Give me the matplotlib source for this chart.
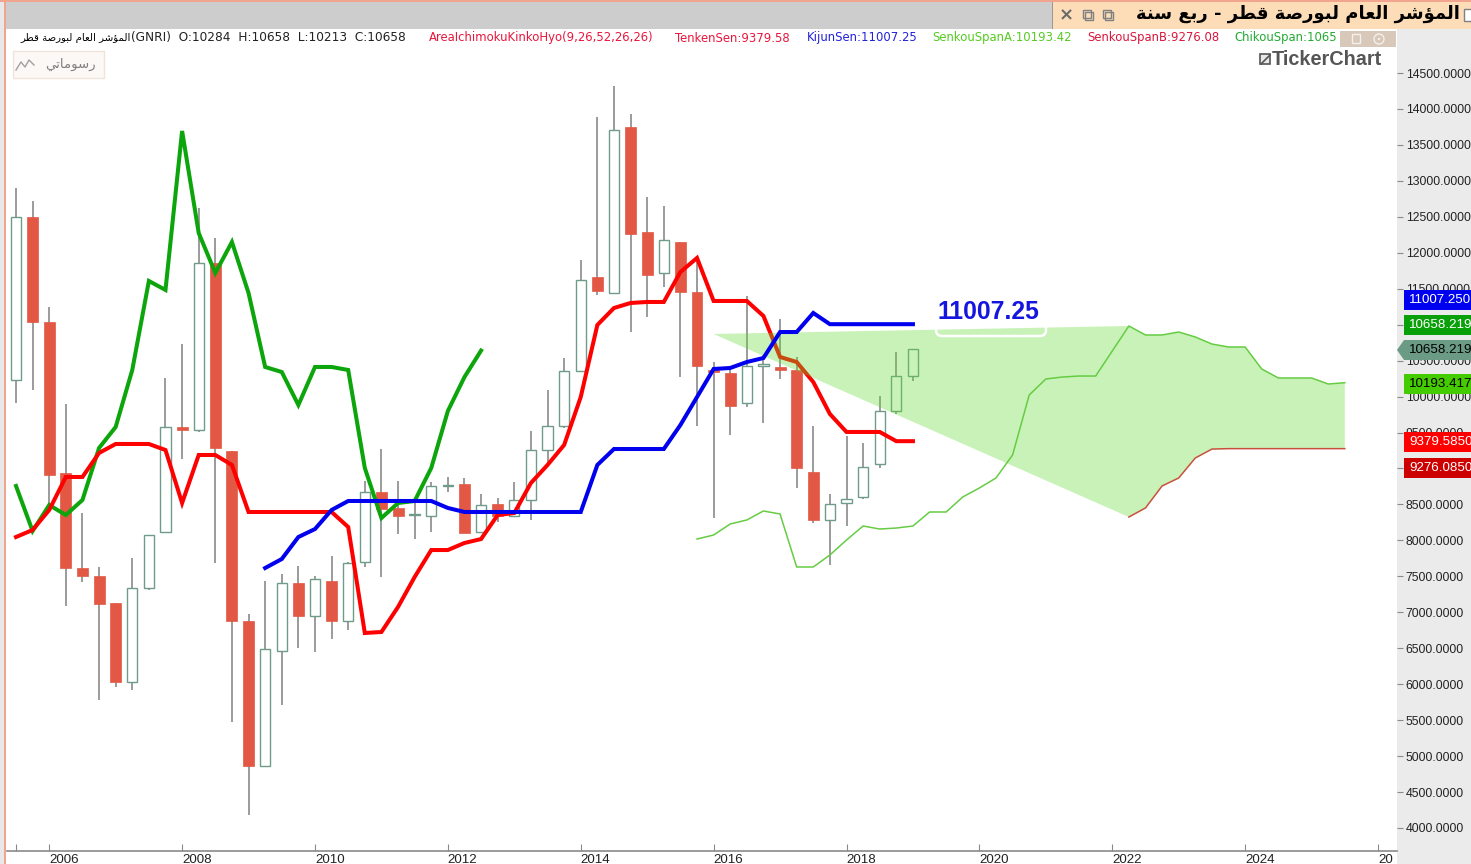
import matplotlib
matplotlib.use('Agg')
import matplotlib.pyplot as plt
import matplotlib.transforms as mtrans
from matplotlib.patches import Rectangle, Polygon, Circle, FancyBboxPatch

# OHLC trimestral
opens = [10231, 12498, 11037, 8937, 7616, 7505, 7129, 6031, 7338, 8117, 9577, 9535, 11858, 9243,
         6879, 4862, 6462, 7407, 6948, 7435, 6879, 7700, 8673, 8451, 8360, 8339, 8750, 8784,
         8117, 8506, 8339, 8562, 9257, 9591, 10356, 11663, 11441, 13749, 12289, 11719, 12150,
         11455, 10370, 10328, 9911, 10425, 10412, 10370, 8951, 8284, 8520, 8604, 9062, 9800, 10284]
closes = [12498, 11037, 8910, 7616, 7505, 7115, 6031, 7338, 8075, 9577, 9535, 11858, 9285, 6879,
          4862, 6490, 7407, 6948, 7463, 6879, 7686, 8673, 8437, 8339, 8374, 8757, 8770, 8103,
          8492, 8339, 8562, 9257, 9591, 10356, 11622, 11469, 13708, 12261, 11691, 12178, 11455,
          10425, 10342, 9869, 10425, 10453, 10370, 9007, 8284, 8506, 8576, 9021, 9800, 10286, 10658]
highs = [12901, 12720, 11246, 9897, 8381, 7630, 7129, 7755, 8075, 10259, 10731, 12623, 12206, 9243,
         6976, 7435, 7533, 7644, 7505, 7783, 7700, 8826, 9271, 8826, 8562, 8812, 8882, 8868,
         8645, 8590, 8812, 9521, 10092, 10537, 11900, 13889, 14320, 13930, 12776, 12651, 12150,
         11928, 10481, 10370, 11399, 10578, 11079, 10551, 9591, 8645, 9452, 9355, 10008, 10620, 10658]
lows = [9911, 10092, 8492, 7088, 7421, 5780, 5961, 5919, 7310, 8117, 9132, 9508, 7686, 5474,
        4181, 4862, 5711, 6503, 6448, 6629, 6754, 7630, 7491, 8089, 8019, 8117, 8673, 8103,
        8117, 8256, 8339, 8284, 9076, 9563, 10356, 11413, 11441, 10898, 11107, 11524, 10272,
        9591, 8311, 9466, 9855, 9633, 10245, 8729, 8242, 7658, 8200, 8576, 9007, 9758, 10213]

# Linhas do Ichimoku
chikou = [8757, 8131, 8492, 8353, 8562, 9285, 9577, 10370, 11608, 11483, 13694, 12275, 11719, 12150,
          11441, 10412, 10342, 9883, 10412, 10412, 10370, 9007, 8311, 8520, 8548, 9007, 9800, 10272, 10640]
tenkan = [8047, 8145, 8423, 8882, 8882, 9216, 9341, 9341, 9341, 9257, 8520, 9188, 9188, 9049,
          8395, 8395, 8395, 8395, 8395, 8395, 8186, 6712, 6726, 7074, 7491, 7866, 7866, 7964,
          8019, 8353, 8381, 8798, 9049, 9327, 9994, 10996, 11232, 11302, 11316, 11316, 11733,
          11928, 11330, 11330, 11330, 11121, 10551, 10481, 10203, 9758, 9508, 9508, 9508, 9380, 9380]
kijun_start = 15
kijun = [7616, 7741, 8047, 8158, 8423, 8548, 8548, 8548, 8548, 8548, 8548, 8451, 8395, 8395,
         8395, 8395, 8395, 8395, 8395, 8395, 9049, 9271, 9271, 9271, 9271, 9605, 9994, 10384,
         10398, 10481, 10537, 10898, 10898, 11163, 11007, 11007, 11007, 11007, 11007, 11007]
span_a_start = 41
span_a = [8019, 8075, 8228, 8284, 8409, 8367, 7630, 7630, 7797, 8005, 8200, 8158, 8172, 8200,
          8395, 8395, 8604, 8729, 8868, 9188, 10022, 10245, 10272, 10286, 10286, 10634, 10982,
          10857, 10857, 10898, 10829, 10731, 10690, 10690, 10384, 10259, 10259, 10259, 10175, 10193]
span_b_start = 67
span_b = [8325, 8451, 8757, 8868, 9146, 9270, 9276, 9276, 9276, 9276, 9276, 9276, 9276, 9276]
cloud_start = 42
cloud_start_value = 10871

year_ticks = [0, 2, 10, 18, 26, 34, 42, 50, 58, 66, 74, 82]
year_labels = ['', '2006', '2008', '2010', '2012', '2014', '2016', '2018', '2020', '2022', '2024', '20']
price_ticks = list(range(4000, 15000, 500))

title_ar = 'المؤشر العام لبورصة قطر - ربع سنة'
symbol_ar = 'المؤشر العام لبورصة قطر'
button_ar = 'رسوماتي'

# Formas de apresentação, o matplotlib não junta letras árabes sozinho
# letra: (isolada, final, inicial, medial)
AR_FORMS = {'ا': (0xFE8D, 0xFE8E), 'ل': (0xFEDD, 0xFEDE, 0xFEDF, 0xFEE0), 'م': (0xFEE1, 0xFEE2, 0xFEE3, 0xFEE4),
            'ؤ': (0xFE85, 0xFE86), 'ش': (0xFEB5, 0xFEB6, 0xFEB7, 0xFEB8), 'ر': (0xFEAD, 0xFEAE),
            'ع': (0xFEC9, 0xFECA, 0xFECB, 0xFECC), 'ب': (0xFE8F, 0xFE90, 0xFE91, 0xFE92), 'و': (0xFEED, 0xFEEE),
            'ص': (0xFEB9, 0xFEBA, 0xFEBB, 0xFEBC), 'ة': (0xFE93, 0xFE94), 'ق': (0xFED5, 0xFED6, 0xFED7, 0xFED8),
            'ط': (0xFEC1, 0xFEC2, 0xFEC3, 0xFEC4), 'س': (0xFEB1, 0xFEB2, 0xFEB3, 0xFEB4),
            'ن': (0xFEE5, 0xFEE6, 0xFEE7, 0xFEE8), 'ت': (0xFE95, 0xFE96, 0xFE97, 0xFE98),
            'ي': (0xFEF1, 0xFEF2, 0xFEF3, 0xFEF4)}


def shape_ar(text):
    out = []
    for i, ch in enumerate(text):
        forms = AR_FORMS.get(ch)
        if forms is None:
            out.append(ch)
            continue
        prev = text[i - 1] if i > 0 else ' '
        nxt = text[i + 1] if i + 1 < len(text) else ' '
        joins_prev = prev in AR_FORMS and len(AR_FORMS[prev]) == 4
        joins_next = nxt in AR_FORMS and len(forms) == 4
        if joins_prev and joins_next:
            out.append(chr(forms[3]))
        elif joins_next:
            out.append(chr(forms[2]))
        elif joins_prev:
            out.append(chr(forms[1]))
        else:
            out.append(chr(forms[0]))
    return ''.join(out)[::-1]


W, H = 1471, 864
fig = plt.figure(figsize=(W / 100, H / 100), dpi=100, facecolor='white')
arial = 'Liberation Sans'

# Fundo da janela, em pixels
bg = fig.add_axes([0, 0, 1, 1], zorder=-1)
bg.set_xlim(0, W)
bg.set_ylim(H, 0)
bg.axis('off')
bg.add_patch(Rectangle((0, 0), 4, H, color='#E8E8E8', lw=0))
bg.add_patch(Rectangle((4, 0), 2.5, H, color='#F2A58E', lw=0))
bg.add_patch(Rectangle((0, 0), W, 2, color='#F2A58E', lw=0))
bg.add_patch(Rectangle((6.5, 2), 1046, 26.5, color='#CDCDCD', lw=0))
bg.add_patch(Rectangle((1052, 2), W - 1052, 26.5, color='#FDDDB8', lw=0))
bg.add_patch(Rectangle((1052, 2), 1, 26.5, color='#999999', lw=0))
bg.add_patch(Rectangle((1397, 29), W - 1397, H - 29, color='#EBEBEB', lw=0))

# Gráfico principal
ax = fig.add_axes([7 / W, (H - 851) / H, (1397 - 7) / W, (851 - 29) / H], zorder=1)
ax.set_xlim((7 - 16) / 16.61, (1397 - 16) / 16.61)
ax.set_ylim(4000 - 23 * 13.908, 4000 + 799 * 13.908)
for s in ['top', 'left', 'right']:
    ax.spines[s].set_visible(False)
ax.spines['bottom'].set_color('#8A8A8A')
ax.spines['bottom'].set_linewidth(1.2)

idx = list(range(len(opens)))
ax.vlines(idx, lows, highs, color='#808080', lw=1.1, zorder=1)
for i in idx:
    lo, hi = min(opens[i], closes[i]), max(opens[i], closes[i])
    if closes[i] >= opens[i]:
        ax.bar(i, hi - lo, bottom=lo, width=0.62, facecolor='white', edgecolor='#6E9C88', lw=1.0, zorder=2)
    else:
        ax.bar(i, hi - lo, bottom=lo, width=0.66, facecolor='#E25845', edgecolor='#E25845', lw=0.5, zorder=2)

ax.plot(range(len(chikou)), chikou, color='#0CA50C', lw=2.9, zorder=3, solid_joinstyle='miter')
ax.plot(idx, tenkan, color='#FF0000', lw=2.9, zorder=3, solid_joinstyle='miter')

# Nuvem por cima das velas e da Tenkan
a_x = [span_a_start + i for i in range(len(span_a))]
b_x = [span_b_start + i for i in range(len(span_b))]
a_top = a_x[span_b_start - span_a_start:]
a_top_v = span_a[span_b_start - span_a_start:]
cloud_x = [cloud_start] + a_top + b_x[::-1]
cloud_y = [cloud_start_value] + a_top_v + span_b[::-1]
ax.fill(cloud_x, cloud_y, facecolor='#64DC32', alpha=0.35, lw=0, zorder=4)
ax.plot(a_x, span_a, color='#66CC44', lw=1.1, zorder=5)
ax.plot(b_x, span_b, color='#C8503C', lw=1.1, zorder=5)
ax.plot(range(kijun_start, kijun_start + len(kijun)), kijun, color='#0000EE', lw=2.9, zorder=6, solid_joinstyle='miter')

ax.set_xticks(year_ticks)
ax.set_xticklabels(year_labels, fontsize=9.6, family=arial, color='#222222', ha='left')
offset = mtrans.ScaledTranslation(2 / 72, 0, fig.dpi_scale_trans)
for lab in ax.get_xticklabels():
    lab.set_transform(lab.get_transform() + offset)
ax.tick_params(axis='x', direction='in', length=5, width=0.8, color='#8A8A8A', pad=2)
ax.yaxis.tick_right()
ax.set_yticks(price_ticks)
ax.set_yticklabels(['%.4f' % p for p in price_ticks], fontsize=8.8, family=arial, color='#222222')
ax.tick_params(axis='y', direction='out', length=4.3, width=0.8, color='#8A8A8A', pad=2)

# Camada de cima: cabeçalho, etiquetas e botões
ui = fig.add_axes([0, 0, 1, 1], zorder=3)
ui.set_xlim(0, W)
ui.set_ylim(H, 0)
ui.axis('off')
ui.patch.set_alpha(0)

# Título e ícones da janela
ui.text(1460, 14, shape_ar(title_ar), ha='right', va='center', fontsize=13, fontweight='bold', color='black')
ui.text(1066, 15, '×', ha='center', va='center', fontsize=13, fontweight='bold', color='#6A6A6A')
for ix in [1083, 1103]:
    ui.add_patch(Rectangle((ix, 10), 8, 8, fill=False, ec='#808080', lw=1))
    ui.add_patch(Rectangle((ix + 2, 12), 8, 8, fill=False, ec='#808080', lw=1))
ui.add_patch(Rectangle((1464, 9), 8, 12, facecolor='white', ec='#808080', lw=1))

# Linha de informações
ui.text(20, 38, shape_ar(symbol_ar), ha='left', va='center', fontsize=7.3, color='black')
ui.text(131, 38, '(GNRI)  O:10284  H:10658  L:10213  C:10658', ha='left', va='center', fontsize=8.7, color='#222222')
header_x = [429, 675, 807, 932, 1087, 1234]
header_txt = ['AreaIchimokuKinkoHyo(9,26,52,26,26)', 'TenkenSen:9379.58', 'KijunSen:11007.25',
              'SenkouSpanA:10193.42', 'SenkouSpanB:9276.08', 'ChikouSpan:1065']
header_col = ['#E8163C', '#E8163C', '#2222DD', '#55CC22', '#D9163C', '#22AA33']
for hx, txt, col in zip(header_x, header_txt, header_col):
    ui.text(hx, 38, txt, ha='left', va='center', fontsize=8.4, color=col)

ui.add_patch(Rectangle((1340, 31), 56, 16, color='#D8C8BA', lw=0))
ui.add_patch(Rectangle((1352, 34), 8, 9, fill=False, ec='#F4F0EC', lw=1))
ui.add_patch(Circle((1379, 39), 5, fill=False, ec='#F4F0EC', lw=1))
ui.add_patch(Circle((1379, 39), 1.2, color='#F4F0EC', lw=0))

# Botão "رسوماتي"
ui.add_patch(Rectangle((13, 51), 91, 27, facecolor='#FBF8F5', ec='#F0E4DA', lw=1))
ui.text(70, 64, shape_ar(button_ar), ha='center', va='center', fontsize=9.5, color='#808080')
ui.plot([16, 21, 25, 29, 34], [70, 62, 67, 60, 65], color='#A0A0A0', lw=1)

# Logo
ui.add_patch(Rectangle((1260, 54), 10, 10, facecolor='#E8E8E8', ec='#555555', lw=1.2))
ui.plot([1261, 1270], [64, 55], color='#555555', lw=1.2)
ui.text(1272, 59.5, 'TickerChart', ha='left', va='center', fontsize=14.3, fontweight='bold', family=arial, color='#555555')

# Rótulo da Kijun
ui.add_patch(FancyBboxPatch((936, 298), 110, 38, boxstyle='round,pad=0,rounding_size=6', fill=False, ec='white', lw=1.8))
ui.text(988, 312, '11007.25', ha='center', va='center', fontsize=17.8, fontweight='bold', family=arial, color='#1515E0')

# Etiquetas de preço no eixo
tag_y = [300, 325, 350, 384, 442, 468]
tag_txt = ['11007.250', '10658.219', '10658.219', '10193.417', '9379.5850', '9276.0850']
tag_bg = ['#0000F0', '#0AA00A', '#6B9B85', '#44CC00', '#FF0000', '#CC0000']
tag_fg = ['white', 'white', 'black', 'black', 'white', 'white']
for ty, txt, c, fg in zip(tag_y, tag_txt, tag_bg, tag_fg):
    ui.add_patch(Rectangle((1404, ty - 10), W - 1404, 20, color=c, lw=0))
    if c == '#6B9B85':
        ui.add_patch(Polygon([(1397, ty), (1404, ty - 10), (1404, ty + 10)], closed=True, color=c, lw=0))
    ui.text(1409, ty, txt, ha='left', va='center', fontsize=9.6, family=arial, color=fg)

fig.savefig('out.png', dpi=100)
